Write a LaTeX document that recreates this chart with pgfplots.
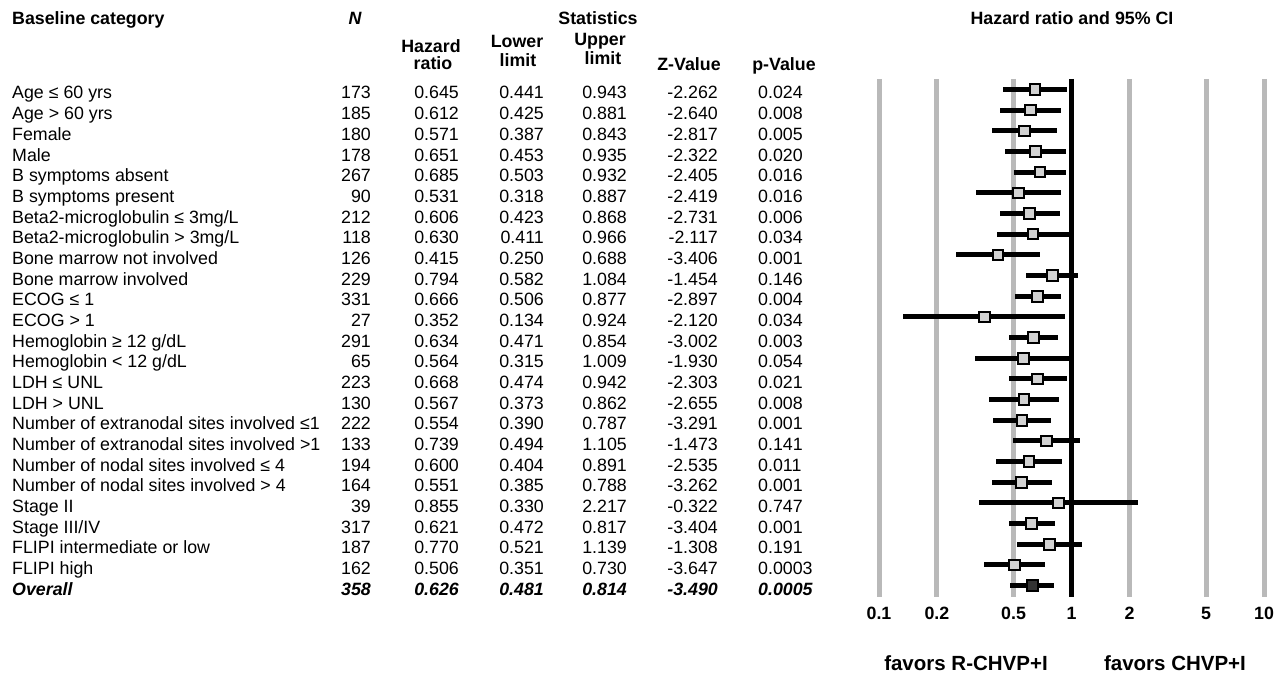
\documentclass[border=0pt]{standalone}
\usepackage{fontspec}
\setmainfont{Liberation Sans}
\usepackage{pgfplots}
\usepackage{pgfplotstable}
\pgfplotsset{compat=1.18}

\newcommand\bodyfont{\fontsize{17.8bp}{20bp}\selectfont}
\newcommand\headfont{\fontsize{17.8bp}{20bp}\selectfont\bfseries}
% image rows: square centre 89.5 + (i-1)*20.67, text baseline 9.5 lower
\newcommand\rowmid{89.5+(\thisrow{row}-1)*20.67}
\newcommand\rowbase{99+(\thisrow{row}-1)*20.67}

\pgfplotstableread[col sep=comma, row sep=\\]{
row,cat,n,hr,lo,up,z,p\\
1,Age ≤ 60 yrs,173,0.645,0.441,0.943,-2.262,0.024\\
2,Age > 60 yrs,185,0.612,0.425,0.881,-2.640,0.008\\
3,Female,180,0.571,0.387,0.843,-2.817,0.005\\
4,Male,178,0.651,0.453,0.935,-2.322,0.020\\
5,B symptoms absent,267,0.685,0.503,0.932,-2.405,0.016\\
6,B symptoms present,90,0.531,0.318,0.887,-2.419,0.016\\
7,Beta2-microglobulin ≤ 3mg/L,212,0.606,0.423,0.868,-2.731,0.006\\
8,Beta2-microglobulin > 3mg/L,118,0.630,0.411,0.966,-2.117,0.034\\
9,Bone marrow not involved,126,0.415,0.250,0.688,-3.406,0.001\\
10,Bone marrow involved,229,0.794,0.582,1.084,-1.454,0.146\\
11,ECOG ≤ 1,331,0.666,0.506,0.877,-2.897,0.004\\
12,ECOG > 1,27,0.352,0.134,0.924,-2.120,0.034\\
13,Hemoglobin ≥ 12 g/dL,291,0.634,0.471,0.854,-3.002,0.003\\
14,Hemoglobin < 12 g/dL,65,0.564,0.315,1.009,-1.930,0.054\\
15,LDH ≤ UNL,223,0.668,0.474,0.942,-2.303,0.021\\
16,LDH > UNL,130,0.567,0.373,0.862,-2.655,0.008\\
17,Number of extranodal sites involved ≤1,222,0.554,0.390,0.787,-3.291,0.001\\
18,Number of extranodal sites involved >1,133,0.739,0.494,1.105,-1.473,0.141\\
19,Number of nodal sites involved ≤ 4,194,0.600,0.404,0.891,-2.535,0.011\\
20,Number of nodal sites involved > 4,164,0.551,0.385,0.788,-3.262,0.001\\
21,Stage II,39,0.855,0.330,2.217,-0.322,0.747\\
22,Stage III/IV,317,0.621,0.472,0.817,-3.404,0.001\\
23,FLIPI intermediate or low,187,0.770,0.521,1.139,-1.308,0.191\\
24,FLIPI high,162,0.506,0.351,0.730,-3.647,0.0003\\
}\subgroups

\pgfplotstableread[col sep=comma, row sep=\\]{
row,cat,n,hr,lo,up,z,p\\
25,Overall,358,0.626,0.481,0.814,-3.490,0.0005\\
}\overall

\pgfplotsset{
  txtcol/.style={draw=none, mark=none, nodes near coords, point meta=explicit symbolic,
    every node near coord/.append style={anchor=#1, inner sep=0pt, font=\bodyfont}},
  txtbold/.style={txtcol=#1,
    every node near coord/.append style={font=\bodyfont\bfseries\itshape}},
}

\begin{document}
\begin{tikzpicture}
\useasboundingbox (0,0) rectangle (1280bp,682bp);

% table part, in image pixel coordinates
\begin{axis}[
    at={(0,0)}, anchor=south west,
    width=1280bp, height=682bp, scale only axis,
    xmin=0, xmax=1280, ymin=0, ymax=682, y dir=reverse,
    hide axis, clip=false]
  \addplot[txtcol=base west] table[x expr=12, y expr=\rowbase, meta=cat] {\subgroups};
  \addplot[txtcol=base east] table[x expr=371, y expr=\rowbase, meta=n] {\subgroups};
  \addplot[txtcol=base east] table[x expr=459, y expr=\rowbase, meta=hr] {\subgroups};
  \addplot[txtcol=base east] table[x expr=544, y expr=\rowbase, meta=lo] {\subgroups};
  \addplot[txtcol=base east] table[x expr=627, y expr=\rowbase, meta=up] {\subgroups};
  \addplot[txtcol=base east] table[x expr=718, y expr=\rowbase, meta=z] {\subgroups};
  \addplot[txtcol=base west] table[x expr=758, y expr=\rowbase, meta=p] {\subgroups};

  \addplot[txtbold=base west] table[x expr=12, y expr=\rowbase, meta=cat] {\overall};
  \addplot[txtbold=base east] table[x expr=371, y expr=\rowbase, meta=n] {\overall};
  \addplot[txtbold=base east] table[x expr=459, y expr=\rowbase, meta=hr] {\overall};
  \addplot[txtbold=base east] table[x expr=544, y expr=\rowbase, meta=lo] {\overall};
  \addplot[txtbold=base east] table[x expr=627, y expr=\rowbase, meta=up] {\overall};
  \addplot[txtbold=base east] table[x expr=718, y expr=\rowbase, meta=z] {\overall};
  \addplot[txtbold=base west] table[x expr=758, y expr=\rowbase, meta=p] {\overall};

  \node[font=\headfont, anchor=base west, inner sep=0pt] at (axis cs:12,25) {Baseline category};
  \node[font=\headfont\itshape, anchor=base, inner sep=0pt] at (axis cs:355,25) {N};
  \node[font=\headfont, anchor=base, inner sep=0pt] at (axis cs:598,25) {Statistics};
  \node[font=\headfont, anchor=base, inner sep=0pt] at (axis cs:1072,25) {Hazard ratio and 95\% CI};
  \node[font=\headfont, anchor=base, inner sep=0pt] at (axis cs:431,53) {Hazard};
  \node[font=\headfont, anchor=base, inner sep=0pt] at (axis cs:433,70) {ratio};
  \node[font=\headfont, anchor=base, inner sep=0pt] at (axis cs:517,48) {Lower};
  \node[font=\headfont, anchor=base, inner sep=0pt] at (axis cs:518,67) {limit};
  \node[font=\headfont, anchor=base, inner sep=0pt] at (axis cs:600,46) {Upper};
  \node[font=\headfont, anchor=base, inner sep=0pt] at (axis cs:603,65) {limit};
  \node[font=\headfont, anchor=base, inner sep=0pt] at (axis cs:689,71) {Z-Value};
  \node[font=\headfont, anchor=base, inner sep=0pt] at (axis cs:784,71) {p-Value};

  \node[font=\fontsize{20.5bp}{24bp}\selectfont\bfseries, anchor=base, inner sep=0pt] at (axis cs:966,670) {favors R-CHVP+I};
  \node[font=\fontsize{20.5bp}{24bp}\selectfont\bfseries, anchor=base, inner sep=0pt] at (axis cs:1175,670) {favors CHVP+I};
\end{axis}

% forest plot
\begin{axis}[
    at={(879bp,85bp)}, anchor=south west,
    width=385bp, height=518bp, scale only axis,
    xmode=log, xmin=0.1, xmax=10,
    ymin=79, ymax=597, y dir=reverse,
    clip=false,
    axis line style={draw=none},
    major tick length=0,
    xtick={0.1,0.2,0.5,1,2,5,10},
    xticklabels={0.1,0.2,0.5,1,2,5,10},
    ytick=\empty,
    xmajorgrids,
    grid style={line width=5bp, color=gray!55},
    xticklabel style={font=\fontsize{17.8bp}{20bp}\selectfont\bfseries, anchor=base, yshift=-22bp}]
  \addplot[black, line width=5bp] coordinates {(1,79) (1,597)};
  \addplot[only marks, mark=square*, mark size=5.3bp,
    mark options={fill=gray!35, draw=black, line width=2bp},
    error bars/.cd, x dir=both, x explicit,
    error bar style={line width=5bp, black}, error mark=none]
    table[x=hr, y expr=\rowmid,
          x error plus expr=\thisrow{up}-\thisrow{hr},
          x error minus expr=\thisrow{hr}-\thisrow{lo}] {\subgroups};
  \addplot[only marks, mark=square*, mark size=5.6bp,
    mark options={fill=black!80, draw=black, line width=2bp},
    error bars/.cd, x dir=both, x explicit,
    error bar style={line width=5bp, black}, error mark=none]
    table[x=hr, y expr=\rowmid,
          x error plus expr=\thisrow{up}-\thisrow{hr},
          x error minus expr=\thisrow{hr}-\thisrow{lo}] {\overall};
\end{axis}
\end{tikzpicture}
\end{document}
